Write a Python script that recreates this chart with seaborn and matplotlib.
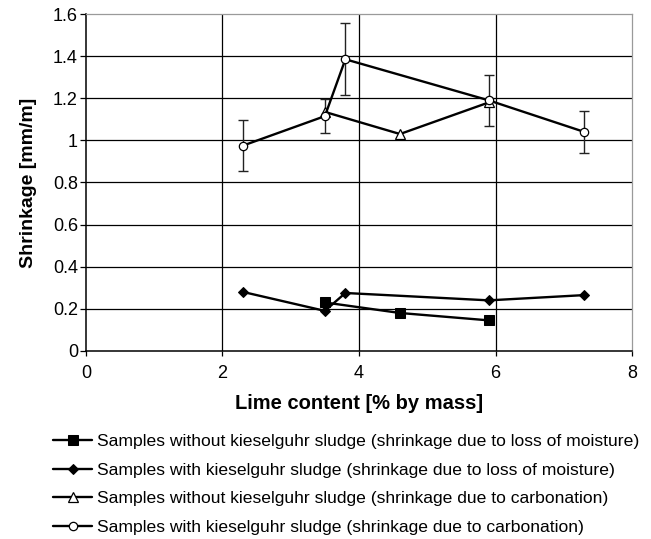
import matplotlib
matplotlib.use("Agg")
import matplotlib.pyplot as plt
import seaborn as sns
import pandas as pd

# Lime content [% by mass] and shrinkage [mm/m] per sample series
sq_x = [3.5, 4.6, 5.9]
sq_y = [0.23, 0.18, 0.145]

dia_x = [2.3, 3.5, 3.8, 5.9, 7.3]
dia_y = [0.28, 0.19, 0.275, 0.24, 0.265]

tri_x = [3.5, 4.6, 5.9]
tri_y = [1.135, 1.03, 1.18]

circ_x = [2.3, 3.5, 3.8, 5.9, 7.3]
circ_y = [0.975, 1.115, 1.385, 1.19, 1.04]
circ_err = [0.12, 0.08, 0.17, 0.12, 0.10]

labels = [
    "Samples without kieselguhr sludge (shrinkage due to loss of moisture)",
    "Samples with kieselguhr sludge (shrinkage due to loss of moisture)",
    "Samples without kieselguhr sludge (shrinkage due to carbonation)",
    "Samples with kieselguhr sludge (shrinkage due to carbonation)",
]

x_ticks = [0, 2, 4, 6, 8]
y_ticks = [0, 0.2, 0.4, 0.6, 0.8, 1.0, 1.2, 1.4, 1.6]

sns.set_style("white")
plt.rcParams["font.family"] = ["Liberation Sans", "DejaVu Sans"]
plt.rcParams["text.color"] = "black"
plt.rcParams["axes.labelcolor"] = "black"
plt.rcParams["xtick.color"] = "black"
plt.rcParams["ytick.color"] = "black"

fig = plt.figure(figsize=(6.51, 5.39), dpi=100)
ax = fig.add_axes([0.132, 0.349, 0.839, 0.625])

# horizontal and vertical grid in black
for yv in y_ticks[1:-1]:
    ax.axhline(yv, color="black", lw=0.9, zorder=1)
for xv in x_ticks[1:-1]:
    ax.axvline(xv, color="black", lw=0.9, zorder=1)

line_kw = dict(color="black", linewidth=1.7, sort=False, ax=ax, zorder=3)

sns.lineplot(data=pd.DataFrame({"x": sq_x, "y": sq_y}), x="x", y="y",
             marker="s", markersize=6.5, markerfacecolor="black",
             markeredgecolor="black", label=labels[0], **line_kw)
sns.lineplot(data=pd.DataFrame({"x": dia_x, "y": dia_y}), x="x", y="y",
             marker="D", markersize=5.5, markerfacecolor="black",
             markeredgecolor="black", label=labels[1], **line_kw)
sns.lineplot(data=pd.DataFrame({"x": tri_x, "y": tri_y}), x="x", y="y",
             marker="^", markersize=7, markerfacecolor="white",
             markeredgecolor="black", markeredgewidth=0.9,
             label=labels[2], **line_kw)

ax.errorbar(circ_x, circ_y, yerr=circ_err, fmt="none", ecolor="#222222",
            elinewidth=1.0, capsize=3.6, capthick=1.0, zorder=2)

sns.lineplot(data=pd.DataFrame({"x": circ_x, "y": circ_y}), x="x", y="y",
             marker="o", markersize=6, markerfacecolor="white",
             markeredgecolor="black", markeredgewidth=0.9,
             label=labels[3], **line_kw)

ax.set_xlim(0, 8)
ax.set_ylim(0, 1.6)
ax.set_xticks(x_ticks)
ax.set_xticklabels([f"{v:g}" for v in x_ticks])
ax.set_yticks(y_ticks)
ax.set_yticklabels([f"{v:g}" for v in y_ticks])
ax.tick_params(axis="y", direction="out", length=4.3, width=0.9,
               labelsize=13, pad=1.5, left=True)
ax.tick_params(axis="x", direction="out", length=3.5, width=0.9,
               labelsize=13, pad=6.8, bottom=True)

for side in ("left", "bottom"):
    ax.spines[side].set_color("black")
    ax.spines[side].set_linewidth(1.1)
for side in ("top", "right"):
    ax.spines[side].set_color("#9a9a9a")
    ax.spines[side].set_linewidth(0.9)

ax.set_xlabel("Lime content [% by mass]", fontsize=14.5, fontweight="bold",
              labelpad=8.5)
ax.set_ylabel("Shrinkage [mm/m]", fontsize=14, fontweight="bold",
              labelpad=11)

handles, labs = ax.get_legend_handles_labels()
ax.get_legend().remove()
fig.legend(handles, labs, loc="upper left", bbox_to_anchor=(0.082, 0.195),
           frameon=False, fontsize=12.6, handlelength=2.2, handletextpad=0.3,
           labelspacing=0.76, borderaxespad=0, borderpad=0)

fig.savefig("out.png", dpi=100)
